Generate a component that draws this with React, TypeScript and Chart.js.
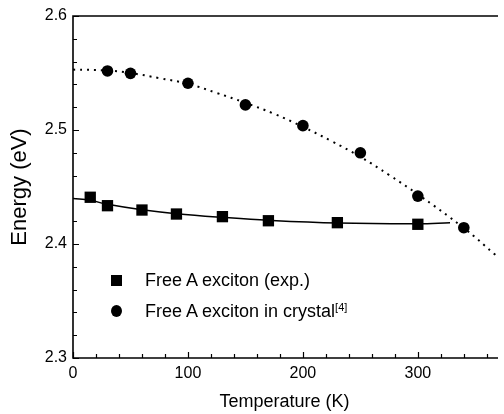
import React, { useEffect, useRef } from "react";
import { Chart, registerables } from "chart.js";

Chart.register(...registerables);

// Experimental free A exciton (squares)
const expT = [15, 30, 60, 90, 130, 170, 230, 300];
const expE = [2.441, 2.4336, 2.4298, 2.4263, 2.424, 2.4204, 2.4187, 2.4173];
// Free A exciton in crystal [4] (circles)
const crysT = [30, 50, 100, 150, 200, 250, 300, 340];
const crysE = [2.5518, 2.5497, 2.541, 2.522, 2.5038, 2.48, 2.442, 2.4143];
// Fit curve through squares (solid)
const expFitT = [0, 15, 30, 60, 90, 130, 170, 230, 300, 328];
const expFitE = [2.44, 2.4383, 2.4348, 2.43, 2.4266, 2.4234, 2.4208, 2.4184, 2.4177, 2.4186];
// Fit curve through circles (dotted)
const crysFitT = [0, 30, 50, 75, 100, 125, 150, 175, 200, 225, 250, 275, 300, 340, 368];
const crysFitE = [2.553, 2.5522, 2.55, 2.5455, 2.5405, 2.5325, 2.5238, 2.5142, 2.5028, 2.4902, 2.4765, 2.4605, 2.4436, 2.414, 2.39];

// Axis ranges and ticks
const xMin = 0;
const xMax = 368;
const xMajor = 100;
const xMinor = 20;
const yMin = 2.3;
const yMax = 2.6;
const yMajor = 0.1;
const yMinor = 0.02;

const xTitle = "Temperature (K)";
const yTitle = "Energy (eV)";
const legendExp = "Free A exciton (exp.)";
const legendCrys = "Free A exciton in crystal";
const legendCrysRef = "[4]";

const FONT = "'Liberation Sans', Arial, Helvetica, sans-serif";

const framePlugin = {
  id: "frameTicks",
  beforeDatasetsDraw(chart: any) {
    const { ctx, chartArea, scales } = chart;
    const { left, right, top, bottom } = chartArea;
    const x = scales.x;
    const y = scales.y;
    ctx.save();
    ctx.strokeStyle = "#000";
    ctx.lineWidth = 1.6;
    ctx.beginPath();
    ctx.moveTo(right + 2, top);
    ctx.lineTo(left, top);
    ctx.lineTo(left, bottom);
    ctx.lineTo(right + 2, bottom);
    ctx.stroke();
    ctx.lineWidth = 1.2;
    ctx.beginPath();
    const nx = Math.round((xMax - xMin) / xMinor);
    for (let i = 0; i <= nx; i++) {
      const v = xMin + i * xMinor;
      const px = Math.round(x.getPixelForValue(v)) + 0.5;
      const major = Math.abs(v / xMajor - Math.round(v / xMajor)) < 1e-6;
      const len = major ? 6 : 4;
      ctx.moveTo(px, bottom);
      ctx.lineTo(px, bottom - len);
    }
    const ny = Math.round((yMax - yMin) / yMinor);
    for (let i = 0; i <= ny; i++) {
      const v = yMin + i * yMinor;
      const py = Math.round(y.getPixelForValue(v)) + 0.5;
      const r = (v - yMin) / yMajor;
      const major = Math.abs(r - Math.round(r)) < 1e-6;
      const len = major ? 6 : 4;
      ctx.moveTo(left, py);
      ctx.lineTo(left + len, py);
    }
    ctx.stroke();
    ctx.restore();
  },
};

export default function App() {
  const ref = useRef<HTMLCanvasElement | null>(null);

  useEffect(() => {
    document.body.style.margin = "0";
    const canvas = ref.current;
    if (!canvas) return;
    const toPts = (xs: number[], ys: number[]) => xs.map((t, i) => ({ x: t, y: ys[i] }));
    const chart = new Chart(canvas, {
      type: "scatter",
      data: {
        datasets: [
          {
            label: legendExp,
            data: toPts(expT, expE),
            pointStyle: "rect",
            pointRadius: 8,
            backgroundColor: "#000",
            borderColor: "#000",
            borderWidth: 0,
            showLine: false,
          },
          {
            label: legendCrys,
            data: toPts(crysT, crysE),
            pointStyle: "circle",
            pointRadius: 5.8,
            backgroundColor: "#000",
            borderColor: "#000",
            borderWidth: 0,
            showLine: false,
          },
          {
            label: "exp fit",
            data: toPts(expFitT, expFitE),
            showLine: true,
            pointRadius: 0,
            borderColor: "#000",
            borderWidth: 1.5,
            tension: 0.4,
          },
          {
            label: "crystal fit",
            data: toPts(crysFitT, crysFitE),
            showLine: true,
            pointRadius: 0,
            borderColor: "#000",
            borderWidth: 2,
            borderDash: [2, 5],
            tension: 0.4,
          },
        ] as any,
      },
      options: {
        responsive: false,
        animation: false,
        devicePixelRatio: 1,
        layout: { padding: { top: 16, right: 0, left: 0, bottom: 0 } },
        plugins: {
          legend: { display: false },
          tooltip: { enabled: false },
        },
        scales: {
          x: {
            type: "linear",
            min: xMin,
            max: xMax,
            grid: { display: false, drawTicks: false },
            border: { display: false },
            ticks: {
              stepSize: xMajor,
              includeBounds: false,
              padding: 6,
              color: "#000",
              font: { family: FONT, size: 16 },
              maxRotation: 0,
            },
            title: {
              display: true,
              text: xTitle,
              color: "#000",
              font: { family: FONT, size: 18 },
              padding: { top: 0, bottom: 1 },
            },
            afterFit: (s: any) => {
              s.height = 56;
            },
          },
          y: {
            type: "linear",
            min: yMin,
            max: yMax,
            grid: { display: false, drawTicks: false },
            border: { display: false },
            ticks: {
              stepSize: yMajor,
              includeBounds: false,
              padding: 6,
              color: "#000",
              font: { family: FONT, size: 16 },
              callback: (v: any) => Number(v).toFixed(1),
            },
            title: {
              display: true,
              text: yTitle,
              color: "#000",
              font: { family: FONT, size: 22 },
              padding: { top: 7, bottom: 0 },
            },
            afterFit: (s: any) => {
              s.width = 73;
            },
          },
        },
      } as any,
      plugins: [framePlugin],
    });
    return () => chart.destroy();
  }, []);

  const textStyle: React.CSSProperties = {
    position: "absolute",
    left: 145,
    fontFamily: FONT,
    fontSize: 18,
    lineHeight: "20px",
    color: "#000",
    whiteSpace: "nowrap",
  };

  return (
    <div style={{ position: "fixed", left: 0, top: 0, width: 504, height: 414, background: "#fff" }}>
      <canvas ref={ref} width={504} height={414} style={{ width: 504, height: 414, display: "block" }} />
      <div style={{ position: "absolute", left: 110.5, top: 274.5, width: 11, height: 11, background: "#000" }} />
      <div style={{ ...textStyle, top: 270 }}>{legendExp}</div>
      <div
        style={{
          position: "absolute",
          left: 110.5,
          top: 305,
          width: 11,
          height: 12,
          borderRadius: "50%",
          background: "#000",
        }}
      />
      <div style={{ ...textStyle, top: 301 }}>
        {legendCrys}
        <sup style={{ fontSize: 11, verticalAlign: "top", position: "relative", top: -4 }}>{legendCrysRef}</sup>
      </div>
    </div>
  );
}
